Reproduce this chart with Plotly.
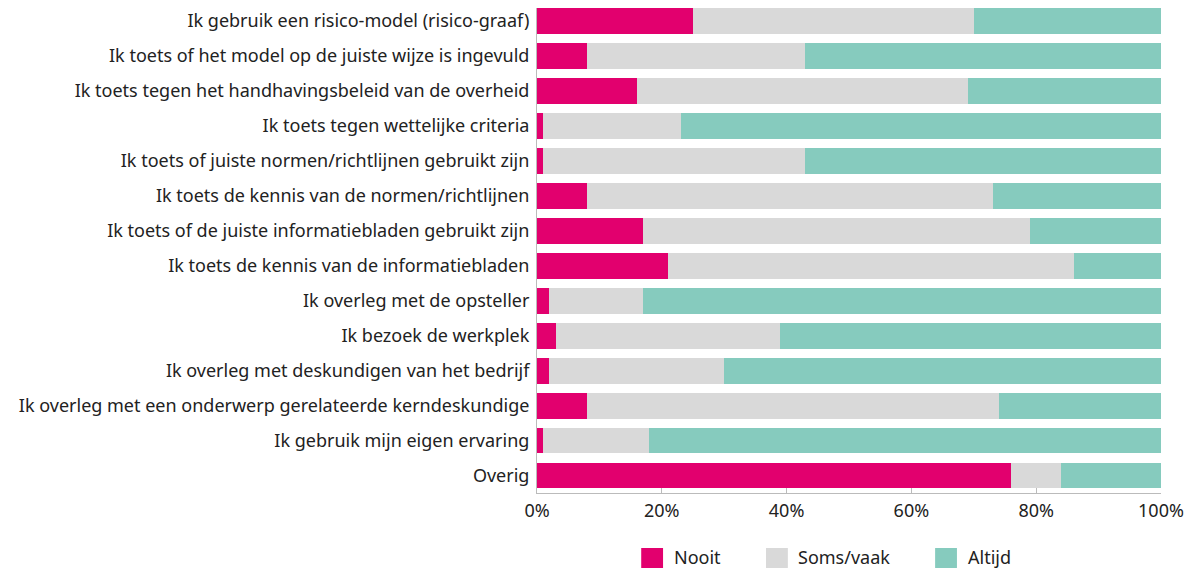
import plotly.graph_objects as go

categories = [
    "Ik gebruik een risico-model (risico-graaf)",
    "Ik toets of het model op de juiste wijze is ingevuld",
    "Ik toets tegen het handhavingsbeleid van de overheid",
    "Ik toets tegen wettelijke criteria",
    "Ik toets of juiste normen/richtlijnen gebruikt zijn",
    "Ik toets de kennis van de normen/richtlijnen",
    "Ik toets of de juiste informatiebladen gebruikt zijn",
    "Ik toets de kennis van de informatiebladen",
    "Ik overleg met de opsteller",
    "Ik bezoek de werkplek",
    "Ik overleg met deskundigen van het bedrijf",
    "Ik overleg met een onderwerp gerelateerde kerndeskundige",
    "Ik gebruik mijn eigen ervaring",
    "Overig",
]
nooit = [25, 8, 16, 1, 1, 8, 17, 21, 2, 3, 2, 8, 1, 76]
soms_vaak = [45, 35, 53, 22, 42, 65, 62, 65, 15, 36, 28, 66, 17, 8]
altijd = [30, 57, 31, 77, 57, 27, 21, 14, 83, 61, 70, 26, 82, 16]

series = [
    ("Nooit", nooit, "#E2006E"),
    ("Soms/vaak", soms_vaak, "#D9D9D9"),
    ("Altijd", altijd, "#86CBBE"),
]
# legend box left edges / label starts, in paper units of the x axis
legend_box_x = [0.167, 0.367, 0.638]
legend_text_x = [0.216, 0.415, 0.6875]

fig = go.Figure()
for name, vals, color in series:
    fig.add_trace(go.Bar(
        y=categories, x=vals, name=name, orientation="h",
        marker=dict(color=color, line=dict(width=0)),
        hoverinfo="x+y+name",
    ))

# hand-made legend (bigger squares than plotly's own)
for (name, vals, color), bx, tx in zip(series, legend_box_x, legend_text_x):
    fig.add_shape(type="rect", xref="paper", yref="paper",
                  x0=bx, x1=bx + 0.035, y0=-0.1134, y1=-0.1546,
                  fillcolor=color, line=dict(width=0))
    fig.add_annotation(text=name, xref="paper", yref="paper",
                       x=tx, y=-0.132, xanchor="left", yanchor="middle",
                       showarrow=False, font=dict(size=18))

# page has an 8px body margin, so the figure is a bit smaller than the window
fig.update_layout(
    barmode="stack",
    bargap=0.26,
    width=1189, height=561,
    margin=dict(l=529, r=36, t=0, b=76, autoexpand=False),
    plot_bgcolor="white", paper_bgcolor="white",
    font=dict(family="Noto Sans, Open Sans, sans-serif", size=18, color="#222222"),
    showlegend=False,
)
fig.update_xaxes(
    range=[0, 100], tickvals=[0, 20, 40, 60, 80, 100],
    ticktext=["0%", "20%", "40%", "60%", "80%", "100%"],
    showgrid=False, zeroline=False, showline=True, linecolor="#BBBBBB", linewidth=1,
    ticks="inside", ticklen=5, tickcolor="#BBBBBB", tickwidth=1,
    ticklabelstandoff=1, automargin=False,
)
fig.update_yaxes(
    range=[13.5, -0.37], showgrid=False, zeroline=False,
    showline=True, linecolor="#BBBBBB", linewidth=1, ticks="",
    ticklabelstandoff=3, automargin=False,
)

fig.write_html("out.html")
